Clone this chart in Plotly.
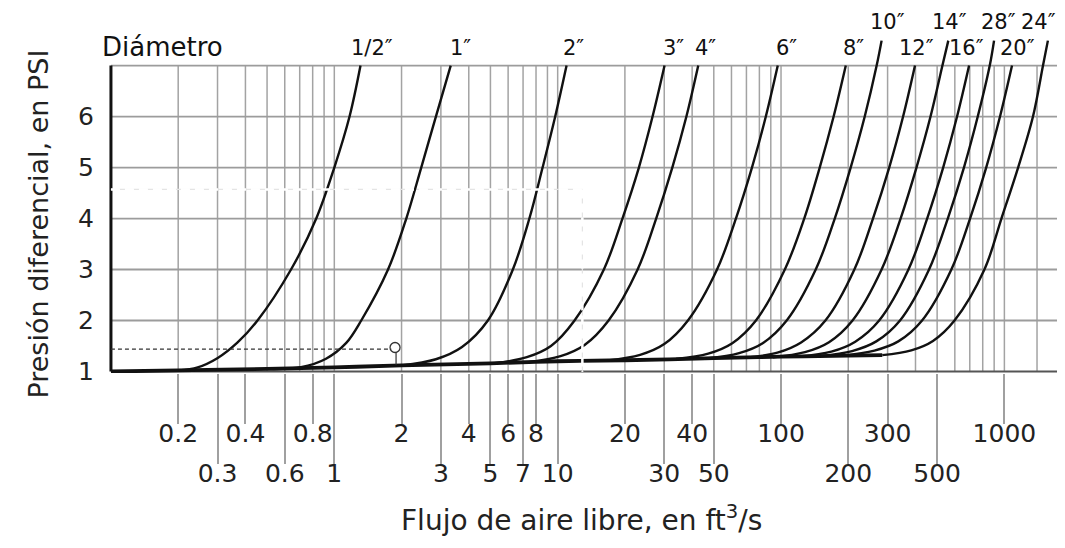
import math
import plotly.graph_objects as go

FONT = "DejaVu Sans"

# ---------------- data ----------------
# vertical grid lines (log axis, ft^3/s)
grid_x = [0.2, 0.3, 0.4, 0.5, 0.6, 0.7, 0.8, 0.9,
          1, 2, 3, 4, 5, 6, 7, 8, 9,
          10, 20, 30, 40, 50, 60, 70, 80, 90,
          100, 200, 300, 400, 500, 600, 700, 800, 900,
          1000, 1400, 1800]
grid_y = [2, 3, 4, 5, 6, 7]          # horizontal grid lines (PSI)

# tick labels, two staggered rows
upper_ticks = [0.2, 0.4, 0.8, 2, 4, 6, 8, 20, 40, 100, 300, 1000]
upper_text = ["0.2", "0.4", "0.8", "2", "4", "6", "8", "20", "40", "100", "300", "1000"]
lower_ticks = [0.3, 0.6, 1, 3, 5, 7, 10, 30, 50, 200, 500]
lower_text = ["0.3", "0.6", "1", "3", "5", "7", "10", "30", "50", "200", "500"]
y_ticks = [1, 2, 3, 4, 5, 6]

# common thick baseline
base_x = [0.1, 0.2, 0.5, 1, 2, 5, 10, 20, 50, 100, 200, 284]
base_y = [1.0, 1.02, 1.05, 1.08, 1.12, 1.16, 1.20, 1.22, 1.26, 1.29, 1.31, 1.32]

# curves per diameter (departure from baseline, knee points, then 2..7 PSI)
x_d05 = [0.2, 0.2445, 0.3006, 0.369, 0.453, 0.64, 0.83, 1.0, 1.17, 1.31]
y_d05 = [1.02, 1.08, 1.265, 1.57, 2, 3, 4, 5, 6, 7]
x_d1 = [0.52, 0.709, 0.918, 1.131, 1.32, 1.74, 2.10, 2.45, 2.85, 3.32]
y_d1 = [1.05, 1.083, 1.25, 1.56, 2, 3, 4, 5, 6, 7]
x_d2 = [2.0, 2.85, 3.73, 4.87, 6.3, 7.47, 8.56, 9.75, 10.96]
y_d2 = [1.12, 1.24, 1.48, 2, 3, 4, 5, 6, 7]
x_d3 = [5.24, 7.28, 9.33, 11.9, 16.1, 19.5, 23.1, 26.6, 30.1]
y_d3 = [1.16, 1.28, 1.50, 2, 3, 4, 5, 6, 7]
x_d4 = [7.41, 10.3, 13.2, 16.9, 22.8, 27.6, 32.6, 37.7, 42.6]
y_d4 = [1.18, 1.30, 1.52, 2, 3, 4, 5, 6, 7]
x_d6 = [16.8, 23.4, 30.0, 38.3, 51.7, 62.8, 74.1, 85.5, 96.7]
y_d6 = [1.215, 1.325, 1.537, 2, 3, 4, 5, 6, 7]
x_d8 = [33.9, 47.2, 60.5, 77.2, 104, 127, 149, 172, 195]
y_d8 = [1.245, 1.35, 1.555, 2, 3, 4, 5, 6, 7]
x_d10 = [46.6, 64.9, 83.1, 106, 143, 174, 205, 237, 268, 282]
y_d10 = [1.255, 1.36, 1.56, 2, 3, 4, 5, 6, 7, 7.49]
x_d12 = [69.3, 96.3, 123, 158, 213, 258, 305, 352, 398]
y_d12 = [1.27, 1.37, 1.57, 2, 3, 4, 5, 6, 7]
x_d14 = [91.9, 128, 164, 209, 282, 343, 404, 467, 528, 561]
y_d14 = [1.28, 1.38, 1.575, 2, 3, 4, 5, 6, 7, 7.49]
x_d16 = [121, 168, 215, 275, 372, 451, 532, 614, 695]
y_d16 = [1.295, 1.39, 1.585, 2, 3, 4, 5, 6, 7]
x_d28 = [150, 208, 267, 341, 460, 558, 659, 760, 860, 899]
y_d28 = [1.30, 1.40, 1.59, 2, 3, 4, 5, 6, 7, 7.49]
x_d20 = [188, 262, 335, 428, 579, 702, 829, 956, 1082]
y_d20 = [1.31, 1.41, 1.59, 2, 3, 4, 5, 6, 7]
x_d24 = [284, 383, 479, 598, 814, 970, 1152, 1343, 1489, 1566]
y_d24 = [1.32, 1.415, 1.60, 2, 3, 4, 5, 6, 7, 7.49]

diam_labels = ["1/2″", "1″", "2″", "3″", "4″", "6″", "8″",
               "10″", "12″", "14″", "16″", "28″", "20″", "24″"]
label_x = [1.48, 3.69, 11.8, 33.0, 45.8, 106, 212, 300, 405, 568, 677, 940, 1143, 1415]
label_row = [1, 1, 1, 1, 1, 1, 1, 0, 1, 0, 1, 0, 1, 0]   # 0 = upper row, 1 = lower row

# reading guide (dashed line + circle) and erased guide lines
guide_x = [0.1, 1.80]
guide_y = [1.44, 1.44]
circle_x = [1.87]
circle_y = [1.47]
stem_x = [1.89, 1.89]
stem_y = [1.38, 1.13]
erased_h_x = [0.1, 12.9]
erased_h_y = [4.57, 4.57]
erased_v_x = [12.9, 12.9]
erased_v_y = [4.57, 0.99]

curves = [(x_d05, y_d05), (x_d1, y_d1), (x_d2, y_d2), (x_d3, y_d3), (x_d4, y_d4),
          (x_d6, y_d6), (x_d8, y_d8), (x_d10, y_d10), (x_d12, y_d12), (x_d14, y_d14),
          (x_d16, y_d16), (x_d28, y_d28), (x_d20, y_d20), (x_d24, y_d24)]

X_MIN, X_MAX = 0.1, 1800
Y_MIN, Y_MAX = 1, 7

# ---------------- figure ----------------
fig = go.Figure()

# vertical grid
vx, vy = [], []
for v in grid_x:
    vx += [v, v, None]
    vy += [Y_MIN, Y_MAX, None]
fig.add_trace(go.Scatter(x=vx, y=vy, mode="lines",
                         line=dict(color="#a3a3a3", width=1.5), hoverinfo="skip"))
# horizontal grid
hx, hy = [], []
for h in grid_y:
    hx += [X_MIN, X_MAX, None]
    hy += [h, h, None]
fig.add_trace(go.Scatter(x=hx, y=hy, mode="lines",
                         line=dict(color="#9c9c9c", width=1.8), hoverinfo="skip"))
# bottom line (1 PSI)
fig.add_trace(go.Scatter(x=[X_MIN, X_MAX], y=[Y_MIN, Y_MIN], mode="lines",
                         line=dict(color="#555555", width=2), hoverinfo="skip"))
# left axis line
fig.add_trace(go.Scatter(x=[X_MIN, X_MIN], y=[Y_MIN, Y_MAX], mode="lines",
                         line=dict(color="#111111", width=3), hoverinfo="skip"))

# erased guide lines (light)
for ex, ey in [(erased_h_x, erased_h_y), (erased_v_x, erased_v_y)]:
    fig.add_trace(go.Scatter(x=ex, y=ey, mode="lines",
                             line=dict(color="#e4e4e4", width=1.2), hoverinfo="skip"))

# baseline
fig.add_trace(go.Scatter(x=base_x, y=base_y, mode="lines", line_shape="spline",
                         line=dict(color="#111111", width=3.8), hoverinfo="skip"))
# diameter curves
for cx, cy in curves:
    fig.add_trace(go.Scatter(x=cx, y=cy, mode="lines", line_shape="spline",
                             line=dict(color="#111111", width=2.4, smoothing=1.0),
                             hoverinfo="skip"))

# dark dashed reading guide
fig.add_trace(go.Scatter(x=guide_x, y=guide_y, mode="lines", xaxis="x2",
                         line=dict(color="#333333", width=1.2, dash="4px,3px"),
                         hoverinfo="skip"))
fig.add_trace(go.Scatter(x=stem_x, y=stem_y, mode="lines",
                         line=dict(color="#333333", width=1.2), hoverinfo="skip"))
fig.add_trace(go.Scatter(x=circle_x, y=circle_y, mode="markers",
                         marker=dict(symbol="circle-open", size=10, color="#333333",
                                     line=dict(color="#333333", width=1.3)),
                         hoverinfo="skip"))

# white dashed (erased) lines on top
for ex, ey in [(erased_h_x, erased_h_y), (erased_v_x, erased_v_y)]:
    fig.add_trace(go.Scatter(x=ex, y=ey, mode="lines",
                             line=dict(color="#ffffff", width=2.5, dash="9px,5px"),
                             hoverinfo="skip"))

log_range = [math.log10(0.097), math.log10(1830)]
tickfont = dict(family=FONT, size=25, color="#222222")

fig.update_layout(
    width=1065, height=548,
    margin=dict(l=100, r=10, t=27, b=183),
    paper_bgcolor="white", plot_bgcolor="white",
    showlegend=False,
    font=dict(family=FONT, color="#222222"),
    xaxis=dict(type="log", range=log_range, showgrid=False, zeroline=False,
               showline=False, ticks="outside", ticklen=50, tickwidth=1.5,
               tickcolor="#a0a0a0", tickvals=upper_ticks, ticktext=upper_text,
               tickfont=tickfont, ticklabelstandoff=-12),
    xaxis2=dict(type="log", range=log_range, overlaying="x", anchor="y", side="bottom",
                matches="x", showgrid=False, zeroline=False, showline=False,
                ticks="outside", ticklen=90, tickwidth=1.5, tickcolor="#a0a0a0",
                tickvals=lower_ticks, ticktext=lower_text, tickfont=tickfont,
                ticklabelstandoff=-12),
    yaxis=dict(range=[0.97, 7.6], showgrid=False, zeroline=False, showline=False,
               ticks="outside", ticklen=8, tickcolor="rgba(0,0,0,0)",
               tickvals=y_ticks, ticktext=[str(t) for t in y_ticks], tickfont=tickfont),
)

annotations = []
for txt, lx, row in zip(diam_labels, label_x, label_row):
    annotations.append(dict(x=math.log10(lx), y=Y_MAX, xref="x", yref="y", text=txt,
                            showarrow=False, font=dict(family=FONT, size=21, color="#111111"),
                            xanchor="center", yanchor="bottom",
                            yshift=4 if row == 1 else 30))
annotations.append(dict(x=math.log10(X_MIN), y=Y_MAX, xref="x", yref="y", text="Diámetro",
                        showarrow=False, font=dict(family=FONT, size=26, color="#111111"),
                        xanchor="left", yanchor="bottom", xshift=-11, yshift=2))
annotations.append(dict(x=0.496, y=-0.43, xref="paper", yref="paper",
                        text="Flujo de aire libre, en ft<sup>3</sup>/s",
                        showarrow=False, font=dict(family=FONT, size=28, color="#222222"),
                        xanchor="center", yanchor="middle"))
annotations.append(dict(x=-0.073, y=0.44, xref="paper", yref="paper",
                        text="Presión diferencial, en PSI", textangle=-90,
                        showarrow=False, font=dict(family=FONT, size=27, color="#222222"),
                        xanchor="center", yanchor="middle"))
fig.update_layout(annotations=annotations)

fig.write_html("out.html")
